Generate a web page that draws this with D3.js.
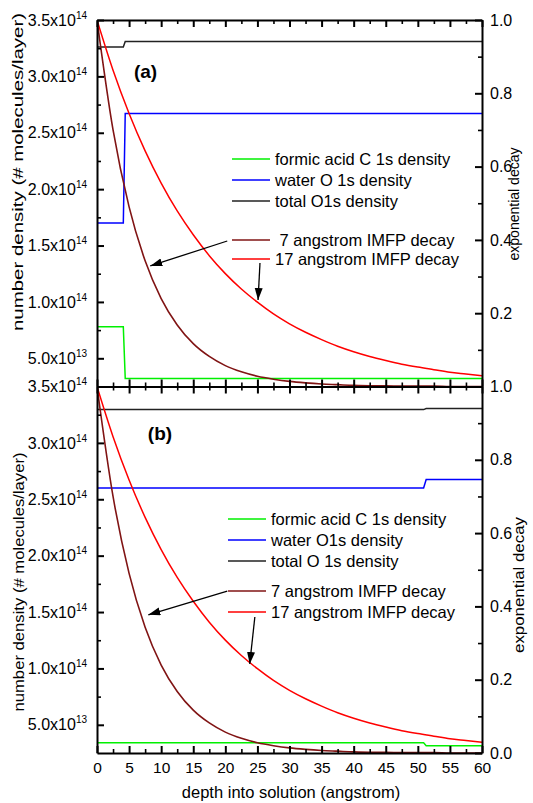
<!DOCTYPE html>
<html><head><meta charset="utf-8">
<script src="https://cdn.jsdelivr.net/npm/d3@7"></script>
<style>
body{margin:0;background:#fff}
svg{display:block}
text{font-family:"Liberation Sans",Arial,Helvetica,sans-serif;fill:#000}
</style>
</head><body>
<svg id="c" width="533" height="803"></svg>
<script>
// ---------- data ----------
const depthGrid = [0,2.5,5,7.5,10,12.5,15,17.5,20,22.5,25,27.5,30,32.5,35,37.5,40,42.5,45,47.5,50,52.5,55,57.5,60];
const decay7  = [1.000,0.700,0.490,0.343,0.240,0.168,0.117,0.082,0.057,0.040,0.028,0.020,0.014,0.010,0.007,0.005,0.003,0.002,0.002,0.001,0.001,0.001,0.000,0.000,0.000];
const decay17 = [1.000,0.863,0.745,0.643,0.555,0.479,0.414,0.357,0.308,0.266,0.230,0.198,0.171,0.148,0.128,0.110,0.095,0.082,0.071,0.061,0.053,0.046,0.039,0.034,0.029];

const stepDepthA = [0, 4.1, 4.4, 60];
const formicA = [7.8e13, 7.8e13, 3.2e13, 3.2e13];
const waterA  = [1.70e14, 1.70e14, 2.67e14, 2.67e14];
const totalA  = [3.26e14, 3.26e14, 3.31e14, 3.31e14];

const stepDepthB = [0, 50.9, 51.3, 60];
const formicB = [3.4e13, 3.4e13, 3.15e13, 3.15e13];
const waterB  = [2.60e14, 2.60e14, 2.675e14, 2.675e14];
const totalB  = [3.295e14, 3.295e14, 3.305e14, 3.305e14];

const densityTicks = [5e13,1e14,1.5e14,2e14,2.5e14,3e14,3.5e14];
const decayTicksA = [0.2,0.4,0.6,0.8,1.0];
const decayTicksB = [0.0,0.2,0.4,0.6,0.8,1.0];
const depthTicks = [0,5,10,15,20,25,30,35,40,45,50,55,60];

const legendNamesA = ["formic acid C 1s density","water O 1s density","total O1s density"," 7 angstrom IMFP decay","17 angstrom IMFP decay"];
const legendNamesB = ["formic acid C 1s density","water O1s density","total O 1s density","7 angstrom IMFP decay","17 angstrom IMFP decay"];

// arrows in data units [depth, decay] : tail -> tip
const arrowsA = [[[20.3,0.397],[8.3,0.329]], [[25.4,0.337],[25.1,0.236]]];
const arrowsB = [[[20.3,0.442],[8.0,0.377]], [[24.6,0.371],[23.8,0.243]]];

// ---------- drawing ----------
const colors = {formic:"#00f000", water:"#0000ff", total:"#222222", d7:"#801414", d17:"#ff0000"};
const svg = d3.select("#c");
const xL = 97, xR = 482;
const x = d3.scaleLinear().domain([0,60]).range([xL,xR]);

const defs = svg.append("defs");
defs.append("marker").attr("id","ah").attr("markerUnits","userSpaceOnUse")
  .attr("markerWidth",13).attr("markerHeight",9).attr("refX",12).attr("refY",4)
  .attr("orient","auto")
  .append("path").attr("d","M0,0 L12,4 L0,8 Z").attr("fill","#000");

const panels = [
  {top:20, bottom:386.5, tag:"(a)", tagX:145.5, tagY:58,
   stepDepth:stepDepthA, formic:formicA, water:waterA, total:totalA,
   decayTicks:decayTicksA, names:legendNamesA,
   legY:[139,160,181,220,239], legX1:232, legX2:270, legTX:[275,275,275,275,275],
   arrows:arrowsA, showX:false,
   leftTitle:{cx:23, cy:172, len:318, fs:14}, rightTitle:{cx:519, cy:204, len:113, fs:14}},
  {top:386.5, bottom:753, tag:"(b)", tagX:160, tagY:53,
   stepDepth:stepDepthB, formic:formicB, water:waterB, total:totalB,
   decayTicks:decayTicksB, names:legendNamesB,
   legY:[132.5,153.5,174.5,204.5,225.5], legX1:228, legX2:266, legTX:[271,271,271,271,271],
   arrows:arrowsB, showX:true,
   leftTitle:{cx:24, cy:582, len:259, fs:14}, rightTitle:{cx:524, cy:585, len:136, fs:15}}
];

function supLabel(sel, v){
  const e = Math.floor(Math.log10(v) + 1e-9);
  const m = v / Math.pow(10,e);
  sel.text(null);
  sel.append("tspan").text(d3.format(".1f")(m) + "x10");
  sel.append("tspan").attr("dy",-7).attr("font-size",10).text(e);
}

panels.forEach((p,i)=>{
  const yL = d3.scaleLinear().domain([2.5e13,3.5e14]).range([p.bottom,p.top]);
  const yR = d3.scaleLinear().domain([0,1]).range([p.bottom,p.top]);
  const g = svg.append("g");

  defs.append("clipPath").attr("id","clip"+i).append("rect")
    .attr("x",xL).attr("y",p.top).attr("width",xR-xL).attr("height",p.bottom-p.top);
  const lines = g.append("g").attr("clip-path",`url(#clip${i})`);

  const lineL = d3.line().x(d=>x(d[0])).y(d=>yL(d[1]));
  const lineR = d3.line().x(d=>x(d[0])).y(d=>yR(d[1])).curve(d3.curveMonotoneX);

  [["formic",p.formic],["water",p.water],["total",p.total]].forEach(([k,vals])=>{
    lines.append("path").datum(d3.zip(p.stepDepth, vals)).attr("d",lineL)
      .attr("fill","none").attr("stroke",colors[k]).attr("stroke-width",1.5);
  });
  lines.append("path").datum(d3.zip(depthGrid, decay17)).attr("d",lineR)
    .attr("fill","none").attr("stroke",colors.d17).attr("stroke-width",1.5);
  lines.append("path").datum(d3.zip(depthGrid, decay7)).attr("d",lineR)
    .attr("fill","none").attr("stroke",colors.d7).attr("stroke-width",1.6);

  // legend
  const keys = ["formic","water","total","d7","d17"];
  const leg = g.append("g");
  keys.forEach((k,j)=>{
    const yy = p.top + p.legY[j];
    leg.append("line").attr("x1",p.legX1).attr("x2",p.legX2).attr("y1",yy).attr("y2",yy)
      .attr("stroke",colors[k]).attr("stroke-width",1.6);
    leg.append("text").attr("x",p.legTX[j]).attr("y",yy).attr("dy","0.35em")
      .attr("font-size",16.5).attr("xml:space","preserve").style("white-space","pre").text(p.names[j]);
  });

  // arrows
  p.arrows.forEach(a=>{
    g.append("line").attr("x1",x(a[0][0])).attr("y1",yR(a[0][1]))
      .attr("x2",x(a[1][0])).attr("y2",yR(a[1][1]))
      .attr("stroke","#000").attr("stroke-width",1.3).attr("marker-end","url(#ah)");
  });

  // panel tag
  g.append("text").attr("x",p.tagX).attr("y",p.top+p.tagY).attr("text-anchor","middle")
    .attr("font-size",19).attr("font-weight","bold").text(p.tag);

  // axes
  const styleAxis = ax => {
    ax.select(".domain").attr("stroke","#000").attr("stroke-width",2);
    ax.selectAll(".tick line").attr("stroke","#000").attr("stroke-width",2);
  };
  const minorAxis = ax => { ax.select(".domain").remove(); ax.selectAll(".tick line").attr("stroke","#000").attr("stroke-width",1.6); };

  // left
  const la = g.append("g").attr("transform",`translate(${xL},0)`)
    .call(d3.axisLeft(yL).tickValues(densityTicks).tickSize(-7).tickSizeOuter(0).tickPadding(10));
  styleAxis(la);
  la.selectAll("text").attr("font-size",16).attr("font-family",null).each(function(d){ supLabel(d3.select(this), d); });
  g.append("g").attr("transform",`translate(${xL},0)`)
    .call(d3.axisLeft(yL).tickValues(d3.range(7.5e13,3.5e14,5e13)).tickSize(-4).tickFormat(""))
    .call(minorAxis);

  // right
  const ra = g.append("g").attr("transform",`translate(${xR},0)`)
    .call(d3.axisRight(yR).tickValues(p.decayTicks).tickSize(-7).tickSizeOuter(0).tickPadding(8).tickFormat(d3.format(".1f")));
  styleAxis(ra);
  ra.selectAll("text").attr("font-size",16).attr("font-family",null);
  g.append("g").attr("transform",`translate(${xR},0)`)
    .call(d3.axisRight(yR).tickValues([0.1,0.3,0.5,0.7,0.9]).tickSize(-4).tickFormat(""))
    .call(minorAxis);

  // top
  const ta = g.append("g").attr("transform",`translate(0,${p.top})`)
    .call(d3.axisTop(x).tickValues(depthTicks).tickSize(-7).tickSizeOuter(0).tickFormat(""));
  styleAxis(ta);
  g.append("g").attr("transform",`translate(0,${p.top})`)
    .call(d3.axisTop(x).tickValues(d3.range(2.5,60,5)).tickSize(-4).tickFormat(""))
    .call(minorAxis);

  // bottom
  const ba = g.append("g").attr("transform",`translate(0,${p.bottom})`)
    .call(d3.axisBottom(x).tickValues(depthTicks).tickSize(-7).tickSizeOuter(0).tickPadding(9)
      .tickFormat(p.showX ? d3.format("d") : ""));
  styleAxis(ba);
  ba.selectAll("text").attr("font-size",15.5).attr("font-family",null);
  g.append("g").attr("transform",`translate(0,${p.bottom})`)
    .call(d3.axisBottom(x).tickValues(d3.range(2.5,60,5)).tickSize(-4).tickFormat(""))
    .call(minorAxis);

  // titles
  const lt = p.leftTitle, rt = p.rightTitle;
  g.append("text").attr("transform",`translate(${lt.cx},${lt.cy}) rotate(-90)`)
    .attr("text-anchor","middle").attr("font-size",lt.fs)
    .attr("textLength",lt.len).attr("lengthAdjust","spacingAndGlyphs")
    .text("number density (# molecules/layer)");
  g.append("text").attr("transform",`translate(${rt.cx},${rt.cy}) rotate(-90)`)
    .attr("text-anchor","middle").attr("font-size",rt.fs)
    .attr("textLength",rt.len).attr("lengthAdjust","spacingAndGlyphs")
    .text("exponential decay");
});

svg.append("text").attr("x",291).attr("y",798).attr("text-anchor","middle")
  .attr("font-size",16.5).text("depth into solution (angstrom)");
</script>
</body></html>
